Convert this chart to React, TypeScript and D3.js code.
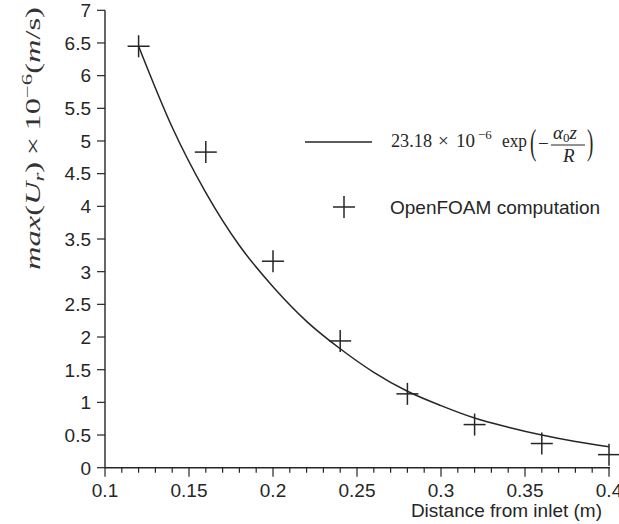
import React, { useLayoutEffect, useRef, useState } from "react";
import * as d3 from "d3";

const W = 619;
const H = 524;

// OpenFOAM computation points
const pointX = [0.12, 0.16, 0.2, 0.24, 0.28, 0.32, 0.36, 0.4];
const pointY = [6.45, 4.83, 3.16, 1.94, 1.13, 0.66, 0.37, 0.2];

// Fitted curve samples
const curveX = [0.12, 0.14, 0.16, 0.18, 0.2, 0.22, 0.24, 0.26, 0.28, 0.3, 0.32, 0.34, 0.36, 0.38, 0.4];
const curveY = [6.45, 5.21, 4.21, 3.4, 2.77, 2.24, 1.82, 1.46, 1.17, 0.95, 0.76, 0.62, 0.5, 0.4, 0.32];

const yTicks = [0, 0.5, 1, 1.5, 2, 2.5, 3, 3.5, 4, 4.5, 5, 5.5, 6, 6.5, 7];
const yTickLabels = ["0", "0.5", "1", "1.5", "2", "2.5", "3", "3.5", "4", "4.5", "5", "5.5", "6", "6.5", "7"];
const xMajorTicks = [0.1, 0.15, 0.2, 0.25, 0.3, 0.35, 0.4];
const xTickLabels = ["0.1", "0.15", "0.2", "0.25", "0.3", "0.35", "0.4"];
const xMinorTicks = [
  0.11, 0.12, 0.13, 0.14, 0.16, 0.17, 0.18, 0.19, 0.21, 0.22, 0.23, 0.24, 0.26, 0.27, 0.28, 0.29,
  0.31, 0.32, 0.33, 0.34, 0.36, 0.37, 0.38, 0.39,
];

const xTitle = "Distance from inlet (m)";
const legendPoints = "OpenFOAM computation";

const SANS = "'Liberation Sans', Arial, Helvetica, sans-serif";
const SERIF = "'Liberation Serif', 'Times New Roman', serif";
const INK = "#262626";

export default function App() {
  const x = d3.scaleLinear().domain([0.1, 0.4]).range([105, 609]);
  const y = d3.scaleLinear().domain([0, 7]).range([467.7, 10.3]);

  const line = d3
    .line<number>()
    .x((_, i) => x(curveX[i]))
    .y((d) => y(d))
    .curve(d3.curveMonotoneX);

  const labelRef = useRef<SVGTextElement>(null);
  const [labelScale, setLabelScale] = useState(1);
  useLayoutEffect(() => {
    if (labelRef.current) {
      const w = labelRef.current.getBBox().width;
      if (w > 0) setLabelScale(263 / w);
    }
  }, []);

  const cross = 11;
  const x0 = x.range()[0];
  const y0 = y.range()[0];
  const parenT = "translate(0,145) scale(1,1.9) translate(0,-142)";

  return (
    <svg
      width={W}
      height={H}
      style={{ position: "absolute", left: 0, top: 0, display: "block", background: "#fff" }}
    >
      {/* axes lines */}
      <line x1={x0} x2={x(0.4) + 1} y1={y0} y2={y0} stroke={INK} strokeWidth={1.4} />
      <line x1={x0} x2={x0} y1={y(7)} y2={y0} stroke={INK} strokeWidth={1.4} />

      {/* y ticks */}
      {yTicks.map((t, i) => (
        <g key={"yt" + i}>
          <line x1={x0 - 8} x2={x0} y1={y(t)} y2={y(t)} stroke={INK} strokeWidth={1.2} />
          <text
            x={91}
            y={y(t)}
            dy="0.36em"
            textAnchor="end"
            fontFamily={SANS}
            fontSize={19}
            fill={INK}
          >
            {yTickLabels[i]}
          </text>
        </g>
      ))}

      {/* x ticks */}
      {xMinorTicks.map((t, i) => (
        <line key={"xm" + i} x1={x(t)} x2={x(t)} y1={y0} y2={y0 + 5} stroke={INK} strokeWidth={1.2} />
      ))}
      {xMajorTicks.map((t, i) => (
        <g key={"xt" + i}>
          <line x1={x(t)} x2={x(t)} y1={y0} y2={y0 + 9} stroke={INK} strokeWidth={1.2} />
          <text x={x(t)} y={497} textAnchor="middle" fontFamily={SANS} fontSize={19} fill={INK}>
            {xTickLabels[i]}
          </text>
        </g>
      ))}

      {/* x title */}
      <text x={602} y={517} textAnchor="end" fontFamily={SANS} fontSize={19} fill={INK}>
        {xTitle}
      </text>

      {/* y title */}
      <g transform={`translate(40, 138.5) rotate(-90)`}>
        <text
          ref={labelRef}
          x={0}
          y={0}
          textAnchor="middle"
          fontFamily={SERIF}
          fontSize={20}
          fill="#333"
          transform={`scale(${labelScale}, 1)`}
        >
          <tspan fontStyle="italic">max</tspan>
          <tspan>(</tspan>
          <tspan fontStyle="italic">U</tspan>
          <tspan fontStyle="italic" fontSize={14} dy={4}>r</tspan>
          <tspan dy={-4}>)</tspan>
          <tspan>{"\u2009×\u200910"}</tspan>
          <tspan fontSize={14} dy={-8}>−6</tspan>
          <tspan dy={8}>(</tspan>
          <tspan fontStyle="italic">m</tspan>
          <tspan>/s)</tspan>
        </text>
      </g>

      {/* fitted curve */}
      <path d={line(curveY) || ""} fill="none" stroke={INK} strokeWidth={1.5} />

      {/* points */}
      {pointX.map((px, i) => (
        <g key={"p" + i} stroke={INK} strokeWidth={1.5}>
          <line x1={x(px) - cross} x2={x(px) + cross} y1={y(pointY[i])} y2={y(pointY[i])} />
          <line x1={x(px)} x2={x(px)} y1={y(pointY[i]) - cross} y2={y(pointY[i]) + cross} />
        </g>
      ))}

      {/* legend: curve */}
      <line x1={305} x2={372} y1={142} y2={142} stroke={INK} strokeWidth={1.5} />
      <g fontFamily={SERIF} fill={INK} fontSize={19}>
        <text x={391} y={147} textLength={41} lengthAdjust="spacingAndGlyphs">23.18</text>
        <text x={438} y={147}>×</text>
        <text x={456} y={147}>10</text>
        <text x={478} y={139} fontSize={13}>−6</text>
        <text x={502} y={147} textLength={25} lengthAdjust="spacingAndGlyphs">exp</text>
        <text x={530} y={147} transform={parenT}>(</text>
        <text x={538} y={150}>−</text>
        <text x={553} y={139} fontStyle="italic">
          <tspan>α</tspan>
          <tspan fontStyle="normal" fontSize={13} dy={3}>0</tspan>
          <tspan dy={-3}>z</tspan>
        </text>
        <line x1={551} x2={585} y1={145} y2={145} stroke={INK} strokeWidth={1} />
        <text x={563} y={162} fontStyle="italic">R</text>
        <text x={587} y={147} transform={parenT}>)</text>
      </g>

      {/* legend: points */}
      <g stroke={INK} strokeWidth={1.5}>
        <line x1={344 - cross} x2={344 + cross} y1={207} y2={207} />
        <line x1={344} x2={344} y1={207 - cross} y2={207 + cross} />
      </g>
      <text x={390} y={214} fontFamily={SANS} fontSize={19} fill={INK}>
        {legendPoints}
      </text>
    </svg>
  );
}
